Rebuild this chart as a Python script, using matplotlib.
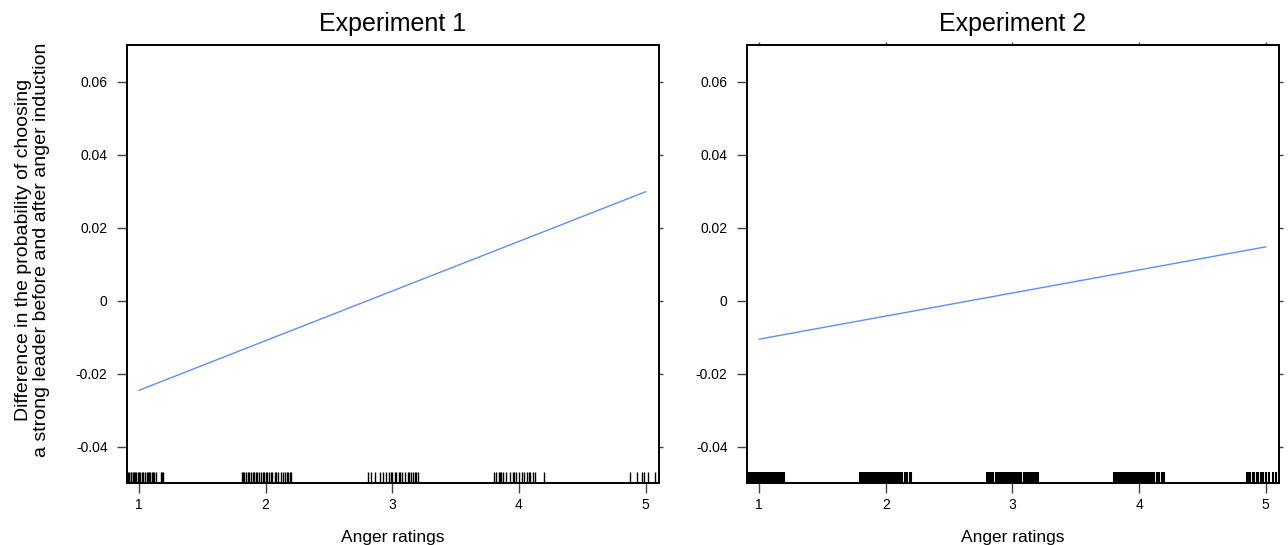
import matplotlib
matplotlib.use("Agg")
from matplotlib import pyplot as plt

plt.rcParams['font.family'] = ['Liberation Sans', 'DejaVu Sans']

titles = ['Experiment 1', 'Experiment 2']
xlabel = 'Anger ratings'
ylabel = ('Difference in the probability of choosing\n'
          'a strong leader before and after anger induction')
yticks = [-0.04, -0.02, 0, 0.02, 0.04, 0.06]
yticklabels = ['-0.04', '-0.02', '0', '0.02', '0.04', '0.06']
xticks = [1, 2, 3, 4, 5]

# fitted line end points (anger 1 -> 5)
line_x = [1, 5]
line_y1 = [-0.0245, 0.0299]
line_y2 = [-0.0105, 0.0148]

# jittered anger ratings shown as rugs
rug1 = [0.91, 0.92, 0.935, 0.94, 0.95, 0.96, 0.97, 0.98, 0.99, 1.0, 1.01,
        1.02, 1.035, 1.05, 1.06, 1.07, 1.08, 1.09, 1.10, 1.11, 1.12, 1.135,
        1.17, 1.18, 1.19,
        1.81, 1.82, 1.83, 1.845, 1.86, 1.87, 1.885, 1.9, 1.91, 1.92, 1.935,
        1.95, 1.96, 1.975, 1.99, 2.0, 2.01, 2.025, 2.04, 2.05, 2.07, 2.085,
        2.1, 2.12, 2.135, 2.15, 2.17, 2.18, 2.195, 2.2,
        2.81, 2.83, 2.86, 2.9, 2.93, 2.95, 2.97, 2.99, 3.0, 3.02, 3.03, 3.05,
        3.06, 3.08, 3.1, 3.12, 3.13, 3.15, 3.16, 3.18, 3.19, 3.2,
        3.80, 3.82, 3.84, 3.85, 3.86, 3.87, 3.9, 3.93, 3.95, 3.96, 3.98, 4.0,
        4.02, 4.04, 4.06, 4.08, 4.09, 4.11, 4.13, 4.2,
        4.88, 4.93, 4.97, 4.99, 5.02, 5.07]
rug2 = [0.91, 0.92, 0.93, 0.94, 0.95, 0.96, 0.97, 0.98, 0.99, 1.0, 1.01,
        1.02, 1.03, 1.04, 1.05, 1.06, 1.07, 1.08, 1.09, 1.10, 1.11, 1.12,
        1.13, 1.14, 1.15, 1.16, 1.17, 1.18, 1.19, 1.2,
        1.8, 1.81, 1.82, 1.83, 1.84, 1.85, 1.86, 1.87, 1.88, 1.89, 1.9, 1.91,
        1.92, 1.93, 1.94, 1.95, 1.96, 1.97, 1.98, 1.99, 2.0, 2.01, 2.02,
        2.03, 2.04, 2.05, 2.06, 2.07, 2.08, 2.09, 2.1, 2.11, 2.12, 2.13,
        2.15, 2.16, 2.17, 2.19, 2.2,
        2.8, 2.81, 2.82, 2.83, 2.85, 2.87, 2.88, 2.89, 2.9, 2.91, 2.92, 2.93,
        2.94, 2.96, 2.97, 2.98, 2.99, 3.0, 3.01, 3.02, 3.04, 3.05, 3.06,
        3.07, 3.09, 3.1, 3.11, 3.12, 3.14, 3.15, 3.16, 3.18, 3.19, 3.2,
        3.8, 3.81, 3.82, 3.83, 3.84, 3.85, 3.86, 3.87, 3.88, 3.89, 3.9, 3.91,
        3.92, 3.93, 3.94, 3.95, 3.96, 3.97, 3.98, 3.99, 4.0, 4.01, 4.02,
        4.03, 4.04, 4.05, 4.06, 4.07, 4.08, 4.09, 4.1, 4.11, 4.12, 4.14,
        4.15, 4.16, 4.18, 4.2,
        4.85, 4.86, 4.88, 4.9, 4.91, 4.93, 4.94, 4.96, 4.98, 5.0, 5.03,
        5.06, 5.08]

fig = plt.figure(figsize=(12.88, 5.45), dpi=100)
ax1 = fig.add_axes([0.0986, 0.1138, 0.413, 0.8036])
ax2 = fig.add_axes([0.58, 0.1138, 0.413, 0.8036])

for ax, title, ly, rug, rlw in zip([ax1, ax2], titles, [line_y1, line_y2],
                                   [rug1, rug2], [1.0, 1.5]):
    ax.plot(line_x, ly, color='#5F8FF0', lw=1.0)
    ax.vlines(rug, 0, 0.026, transform=ax.get_xaxis_transform(),
              color='black', lw=rlw)
    ax.set_xlim(0.905, 5.105)
    ax.set_ylim(-0.0499, 0.0701)
    ax.set_xticks(xticks)
    ax.set_yticks(yticks)
    ax.set_yticklabels(yticklabels)
    ax.tick_params(axis='both', direction='out', length=7, width=1,
                   color='#444444', labelsize=10, labelcolor='black', pad=4)
    ax.tick_params(axis='y', pad=7)
    for s in ax.spines.values():
        s.set_linewidth(1.4)
        s.set_color('black')
    ax.set_title(title, fontsize=18, pad=10)
    ax.set_xlabel(xlabel, fontsize=12.5, labelpad=13)

# short ticks on the right side, top ticks on second panel
for ax in [ax1, ax2]:
    sec = ax.secondary_yaxis('right')
    sec.set_yticks(yticks)
    sec.set_yticklabels([])
    sec.tick_params(length=3, width=1, color='#444444')
    sec.spines['right'].set_visible(False)
top = ax2.secondary_xaxis('top')
top.set_xticks(xticks)
top.set_xticklabels([])
top.tick_params(length=2, width=1, color='#444444')
top.spines['top'].set_visible(False)

ax1.set_ylabel(ylabel, fontsize=14, linespacing=1.05)
ax1.yaxis.set_label_coords(-0.145, 0.532)

fig.savefig('out.png', dpi=100)
